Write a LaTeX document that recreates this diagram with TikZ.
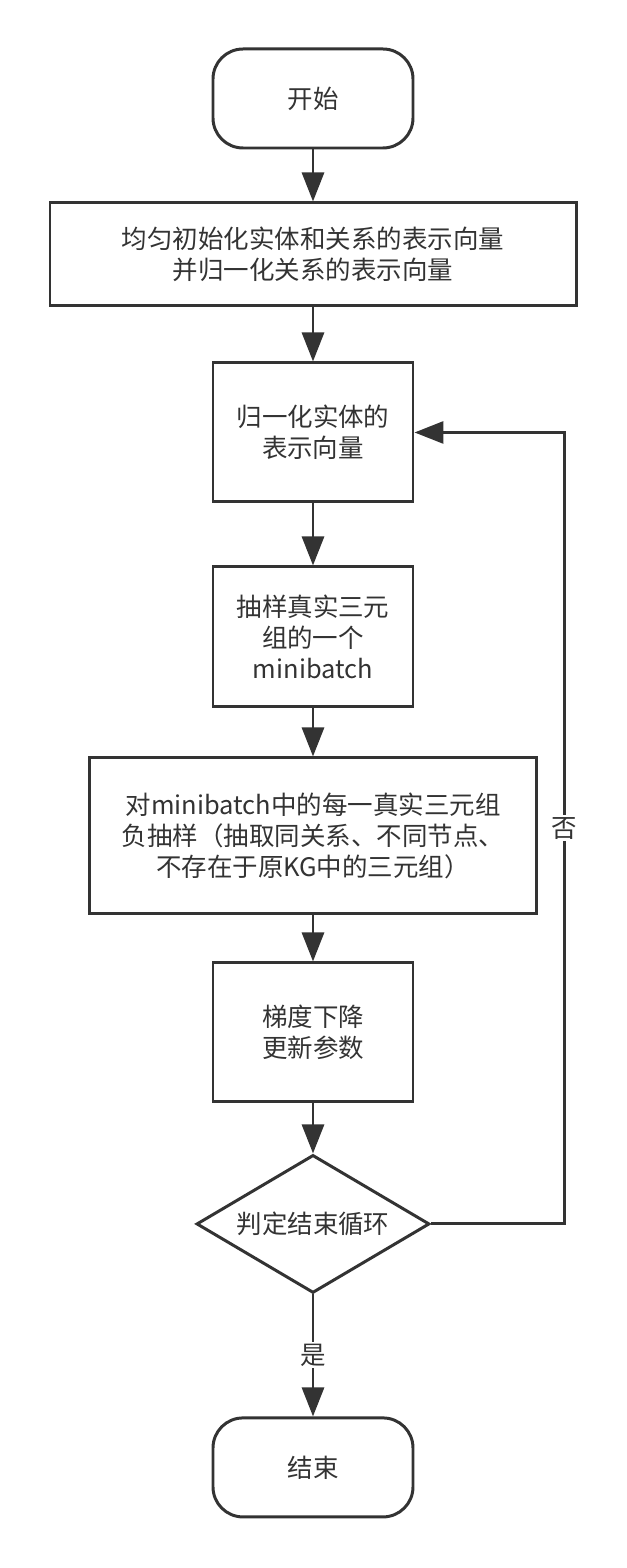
\documentclass[tikz,border=0pt]{standalone}
\usepackage{fontspec}
\setmainfont{Noto Sans CJK SC}
\usetikzlibrary{shapes.geometric, arrows.meta, positioning}
\definecolor{darkline}{HTML}{333333}
\definecolor{darktext}{HTML}{333333}

\begin{document}
\begin{tikzpicture}[
    node distance=1.04cm,
    term/.style={rectangle, draw=darkline, line width=1.7pt, rounded corners=0.6cm,
                minimum width=4cm, minimum height=1.98cm, align=center,
                text=darktext, font=\fontsize{14.5pt}{17.8pt}\selectfont},
    proc/.style={rectangle, draw=darkline, line width=1.7pt,
                minimum width=#1, minimum height=2.78cm, align=center,
                text=darktext, font=\fontsize{14.5pt}{17.8pt}\selectfont},
    decide/.style={diamond, draw=darkline, line width=1.7pt, aspect=1.69, inner sep=0pt,
                minimum width=4.66cm, minimum height=2.76cm, align=center,
                text=darktext, font=\fontsize{14.5pt}{17.8pt}\selectfont},
    tag/.style={fill=white, inner sep=1pt, text=darktext, font=\fontsize{14.5pt}{17.8pt}\selectfont},
    arrow/.style={-{Triangle[length=0.58cm, width=0.44cm]}, line width=1.7pt, color=darkline}
]
\useasboundingbox (-6.26,1.97) rectangle (6.26,-29.39);

\node[term] (start) at (0,0) {开始};
\node[proc=10.52cm, minimum height=2.06cm, below=1.04cm of start] (init) {均匀初始化实体和关系的表示向量\\并归一化关系的表示向量};
\node[proc=4cm, below=1.08cm of init] (normEnt) {归一化实体的\\表示向量};
\node[proc=4cm, minimum height=2.8cm, below=1.24cm of normEnt] (sample) {抽样真实三元\\组的一个\\minibatch};
\node[proc=8.94cm, minimum height=3.12cm, below=0.96cm of sample] (negSample) {对minibatch中的每一真实三元组\\负抽样（抽取同关系、不同节点、\\不存在于原KG中的三元组）};
\node[proc=4cm, below=0.92cm of negSample] (update) {梯度下降\\更新参数};
\node[decide, below=1.0cm of update] (judge) {判定结束循环};
\node[term, below=2.44cm of judge] (stop) {结束};

\draw[arrow] (start) -- (init);
\draw[arrow] (init) -- (normEnt);
\draw[arrow] (normEnt) -- (sample);
\draw[arrow] (sample) -- (negSample);
\draw[arrow] (negSample) -- (update);
\draw[arrow] (update) -- (judge);
\draw[arrow] (judge) -- node[tag] {是} (stop);
\draw[arrow] (judge.east) -| node[tag, pos=0.75] {否} ([xshift=3cm]normEnt.east) -- (normEnt.east);

\end{tikzpicture}
\end{document}
